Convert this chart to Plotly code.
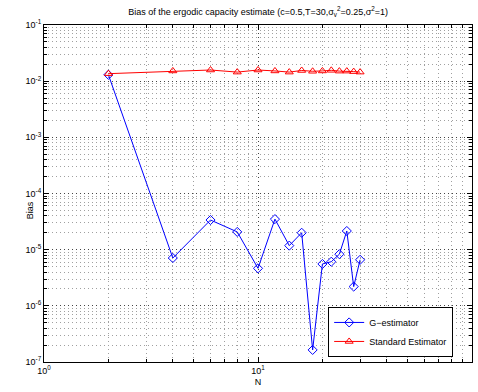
import plotly.graph_objects as go

N = [2, 4, 6, 8, 10, 12, 14, 16, 18, 20, 22, 24, 26, 28, 30]
g_est = [1.3e-2, 7.1e-6, 3.37e-5, 2.07e-5, 4.65e-6, 3.5e-5, 1.18e-5, 2.0e-5,
         1.64e-7, 5.56e-6, 6.1e-6, 8.3e-6, 2.15e-5, 2.2e-6, 6.6e-6]
std_est = [1.36e-2, 1.52e-2, 1.58e-2, 1.45e-2, 1.58e-2, 1.52e-2, 1.45e-2, 1.55e-2,
           1.5e-2, 1.52e-2, 1.56e-2, 1.51e-2, 1.51e-2, 1.48e-2, 1.45e-2]

x_tickvals = [1, 10, 100]
x_ticktext = ["10<sup>0</sup>", "10<sup>1</sup>", "10<sup>2</sup>"]
y_tickvals = [1e-7, 1e-6, 1e-5, 1e-4, 1e-3, 1e-2, 1e-1]
y_ticktext = ["10<sup>-7</sup>", "10<sup>-6</sup>", "10<sup>-5</sup>", "10<sup>-4</sup>",
              "10<sup>-3</sup>", "10<sup>-2</sup>", "10<sup>-1</sup>"]
minor_digits = [2, 3, 4, 5, 6, 7, 8, 9]
x_minor = [d * base for base in (1, 10) for d in minor_digits]
y_minor = [d * base for base in (1e-7, 1e-6, 1e-5, 1e-4, 1e-3, 1e-2) for d in minor_digits]

font = "Liberation Sans, Arial, sans-serif"

fig = go.Figure()
fig.add_trace(go.Scatter(
    x=N, y=g_est, mode="lines+markers", name="G\u2212estimator",
    line=dict(color="#0000ff", width=1),
    marker=dict(symbol="diamond-open", size=7, color="#0000ff", line=dict(width=1)),
))
fig.add_trace(go.Scatter(
    x=N, y=std_est, mode="lines+markers", name="Standard Estimator",
    line=dict(color="#ff0000", width=1),
    marker=dict(symbol="triangle-up-open", size=7, color="#ff0000", line=dict(width=1)),
))

axis_common = dict(
    type="log", showline=True, linecolor="black", linewidth=1, mirror="allticks",
    ticks="inside", ticklen=5, tickcolor="black",
    showgrid=True, gridcolor="#444444", griddash="1px,3px", gridwidth=1,
    zeroline=False,
    tickfont=dict(family=font, size=9, color="black"),
)

fig.update_xaxes(range=[0, 2], tickvals=x_tickvals, ticktext=x_ticktext,
                 title=dict(text="N", font=dict(family=font, size=9, color="black"), standoff=3),
                 minor=dict(tickvals=x_minor, showgrid=True, gridcolor="#a0a0a0",
                            griddash="1px,3px", gridwidth=1,
                            ticks="inside", ticklen=3, tickcolor="black"),
                 **axis_common)
fig.update_yaxes(range=[-7, -1], tickvals=y_tickvals, ticktext=y_ticktext,
                 minor=dict(tickvals=y_minor, showgrid=True, gridcolor="#a0a0a0",
                            griddash="1px,3px", gridwidth=1,
                            ticks="inside", ticklen=3, tickcolor="black"),
                 **axis_common)

fig.add_annotation(text="Bias", xref="paper", yref="paper", x=-0.033, y=0.45,
                   textangle=-90, showarrow=False, xanchor="center", yanchor="middle",
                   font=dict(family=font, size=9, color="black"))

fig.update_layout(
    width=478, height=392,
    margin=dict(l=44, r=6, t=25, b=30),
    paper_bgcolor="white", plot_bgcolor="white",
    title=dict(text="Bias of the ergodic capacity estimate (c=0.5,T=30,\u03c3<sub>v</sub><sup>2</sup>=0.25,\u03c3<sup>2</sup>=1)",
               x=0.54, xanchor="center", yref="container", y=0.97, yanchor="middle",
               font=dict(family=font, size=9, color="black")),
    legend=dict(x=0.956, y=0.015, xanchor="right", yanchor="bottom",
                bgcolor="white", bordercolor="black", borderwidth=1,
                font=dict(family=font, size=9, color="black"),
                tracegroupgap=0, itemwidth=30),
    showlegend=True,
)

fig.write_html("out.html", config={"displayModeBar": False},
               post_script="document.body.style.margin='0';")
